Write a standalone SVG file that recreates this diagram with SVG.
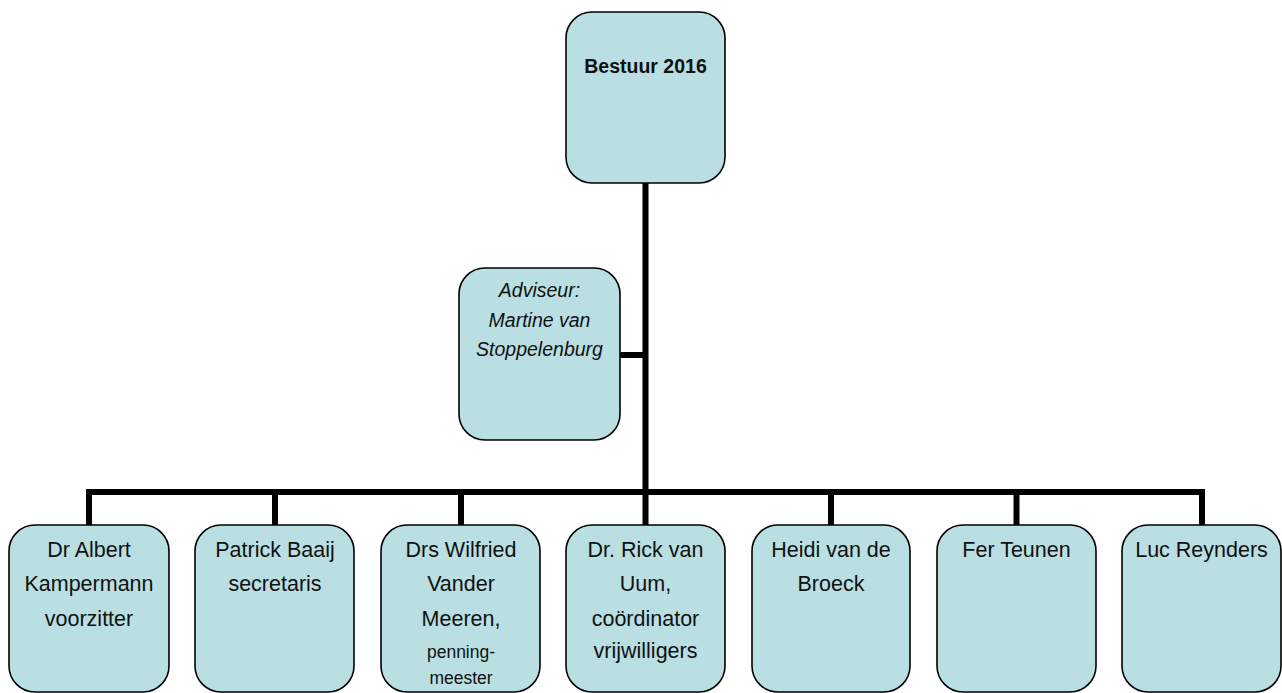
<svg xmlns="http://www.w3.org/2000/svg" width="1282" height="693" viewBox="0 0 1282 693">
<style>
.box{fill:#B9DFE3;stroke:#000;stroke-width:1.6}
.t{font-family:"Liberation Sans",Arial,sans-serif;font-size:21.5px;fill:#111;text-anchor:middle}
.s{font-size:17.5px}
.b{font-weight:bold;font-size:19.5px}
.i{font-style:italic;font-size:19.5px}
.c{stroke:#000;stroke-width:6;fill:none}
</style>
<rect width="1282" height="693" fill="#fff"/>
<g id="connectors">
<line class="c" x1="645.5" y1="183" x2="645.5" y2="495"/>
<line class="c" x1="620" y1="355" x2="645.5" y2="355"/>
<polyline class="c" points="89,525 89,492 1202,492 1202,525"/>
<line class="c" x1="275" y1="492" x2="275" y2="525"/>
<line class="c" x1="461" y1="492" x2="461" y2="525"/>
<line class="c" x1="645.5" y1="492" x2="645.5" y2="525"/>
<line class="c" x1="831" y1="492" x2="831" y2="525"/>
<line class="c" x1="1016.5" y1="492" x2="1016.5" y2="525"/>
</g>
<g id="bestuur">
<rect class="box" x="566" y="12" width="159" height="171" rx="26"/>
<text class="t b" x="645.5" y="73">Bestuur 2016</text>
</g>
<g id="adviseur">
<rect class="box" x="459" y="268" width="161" height="172" rx="26"/>
<text class="t i" x="539.5" y="297">Adviseur:</text>
<text class="t i" x="539.5" y="327">Martine van</text>
<text class="t i" x="539.5" y="356">Stoppelenburg</text>
</g>
<g id="kampermann">
<rect class="box" x="9" y="525" width="160" height="167" rx="26"/>
<text class="t" x="89" y="557">Dr Albert</text>
<text class="t" x="89" y="591">Kampermann</text>
<text class="t" x="89" y="626">voorzitter</text>
</g>
<g id="baaij">
<rect class="box" x="195" y="525" width="159" height="167" rx="26"/>
<text class="t" x="275" y="557">Patrick Baaij</text>
<text class="t" x="275" y="591">secretaris</text>
</g>
<g id="vandermeeren">
<rect class="box" x="381" y="525" width="159" height="167" rx="26"/>
<text class="t" x="461" y="557">Drs Wilfried</text>
<text class="t" x="461" y="591">Vander</text>
<text class="t" x="461" y="626">Meeren,</text>
<text class="t s" x="461" y="658">penning-</text>
<text class="t s" x="461" y="684">meester</text>
</g>
<g id="vanuum">
<rect class="box" x="566" y="525" width="159" height="167" rx="26"/>
<text class="t" x="645.5" y="557">Dr. Rick van</text>
<text class="t" x="645.5" y="591">Uum,</text>
<text class="t" x="645.5" y="626">coördinator</text>
<text class="t" x="645.5" y="658">vrijwilligers</text>
</g>
<g id="vandebroeck">
<rect class="box" x="752" y="525" width="158" height="167" rx="26"/>
<text class="t" x="831" y="557">Heidi van de</text>
<text class="t" x="831" y="591">Broeck</text>
</g>
<g id="teunen">
<rect class="box" x="937" y="525" width="159" height="167" rx="26"/>
<text class="t" x="1016.5" y="557">Fer Teunen</text>
</g>
<g id="reynders">
<rect class="box" x="1122" y="525" width="159" height="167" rx="26"/>
<text class="t" x="1201.5" y="557">Luc Reynders</text>
</g>
</svg>
